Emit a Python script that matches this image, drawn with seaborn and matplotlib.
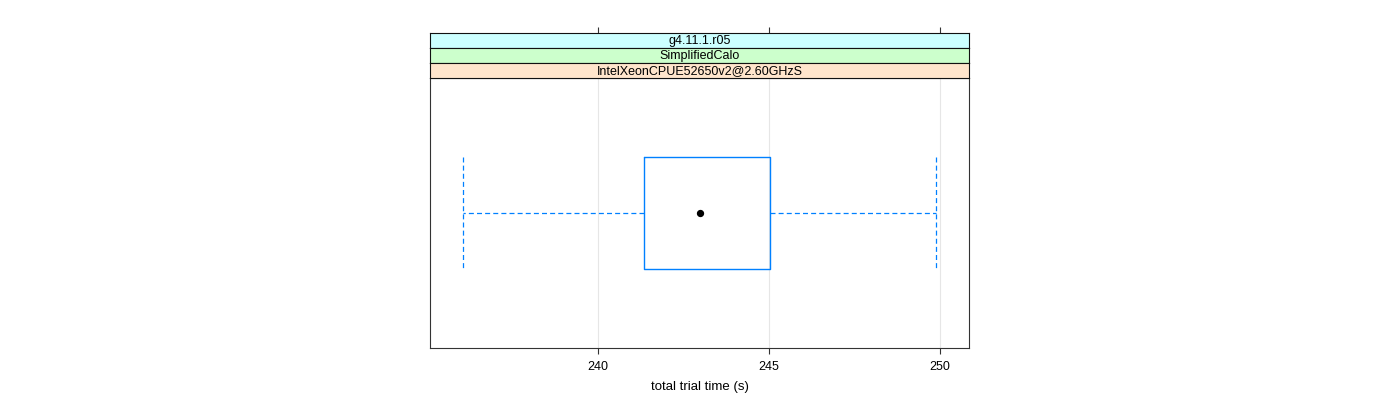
import numpy as np
import pandas as pd
import matplotlib
matplotlib.use("Agg")
import matplotlib.pyplot as plt
import seaborn as sns

# Data
trial_times = [236.05, 241.35, 242.98, 245.03, 249.88]
strip_labels = ["g4.11.1.r05", "SimplifiedCalo", "IntelXeonCPUE52650v2@2.60GHzS"]
strip_colors = ["#CCFFFF", "#CCFFCC", "#FFE5CC"]
x_ticks = [240, 245, 250]
x_label = "total trial time (s)"

sns.set_style("white")
plt.rcParams['font.family'] = ['Liberation Sans', 'DejaVu Sans']
plt.rcParams['text.color'] = 'black'
plt.rcParams['axes.labelcolor'] = 'black'
plt.rcParams['xtick.color'] = 'black'

df = pd.DataFrame({"time": trial_times})

fig = plt.figure(figsize=(14, 4), dpi=100)
L, W = 430 / 1400, (969 - 430) / 1400
ax = fig.add_axes([L, 1 - 348 / 400, W, 270 / 400])

blue = "#0080FF"
sns.boxplot(data=df, x="time", ax=ax, width=0.5, fill=False, color=blue,
            linewidth=1.0, whis=1.5, showfliers=False,
            boxprops=dict(color=blue, linewidth=1.0),
            whiskerprops=dict(color=blue, linestyle=(0, (4, 2.5)), linewidth=0.9),
            capprops=dict(color=blue, linestyle=(0, (4, 2.5)), linewidth=0.9),
            medianprops=dict(linewidth=0, alpha=0),
            capwidths=0.5)
ax.scatter([np.median(trial_times)], [0], s=18, color="black", zorder=5)

ax.set_xlim(235.09, 250.85)
ax.set_ylim(0.6, -0.6)
ax.set_xticks(x_ticks)
ax.set_xticklabels([str(t) for t in x_ticks], fontsize=9, color="black")
ax.set_yticks([])
ax.set_ylabel("")
ax.set_xlabel(x_label, fontsize=9.5, labelpad=6, color="black")
ax.grid(axis="x", color="#E6E6E6", linewidth=0.8)
ax.set_axisbelow(True)
ax.tick_params(axis="x", direction="out", length=4, width=0.8, color="#333333",
               bottom=True, pad=5)
for s in ax.spines.values():
    s.set_color("#333333")
    s.set_linewidth(0.8)

sh = 15 / 400
for i, (lab, col) in enumerate(zip(strip_labels, strip_colors)):
    bottom = 1 - 78 / 400 + (len(strip_labels) - 1 - i) * sh
    sax = fig.add_axes([L, bottom, W, sh], sharex=ax)
    sax.set_facecolor(col)
    sax.set_yticks([])
    sax.text(0.5, 0.45, lab, transform=sax.transAxes, ha="center", va="center",
             fontsize=9, color="black")
    for s in sax.spines.values():
        s.set_color("#111111")
        s.set_linewidth(0.8)
    if i == 0:
        sax.tick_params(axis="x", top=True, bottom=False, labeltop=False,
                        labelbottom=False, direction="out", length=4, width=0.8,
                        color="#333333")
    else:
        sax.tick_params(axis="x", top=False, bottom=False, labeltop=False,
                        labelbottom=False)
    sax.set_xlabel("")

fig.savefig("out.png", dpi=100, facecolor="white")
